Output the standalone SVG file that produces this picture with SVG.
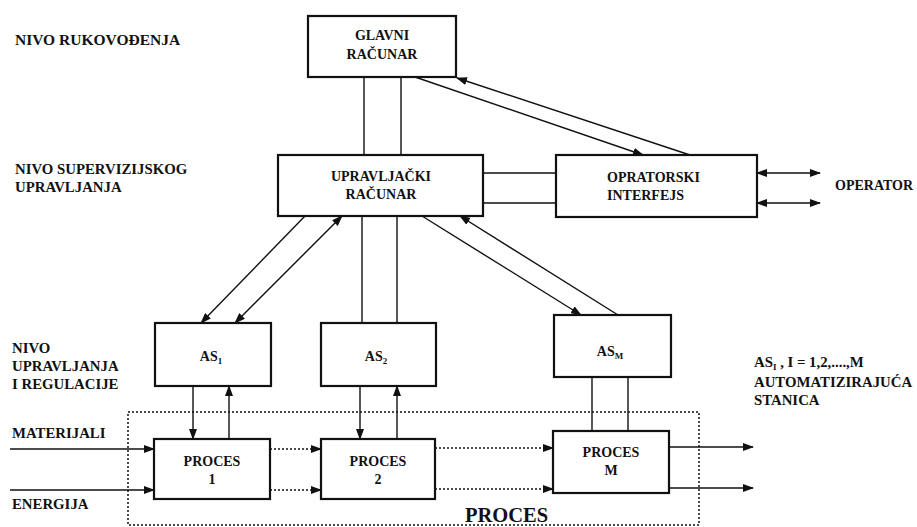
<svg xmlns="http://www.w3.org/2000/svg" width="917" height="527" viewBox="0 0 917 527">
  <style>
    text { font-family: "Liberation Serif", "DejaVu Serif", serif; font-weight: bold; fill: #111; font-size: 14px; }
    text.lbl { font-size: 14.8px; }
    text.top { font-size: 15.5px; }
    text.big { font-size: 20.5px; }
    tspan.sub { font-size: 9px; }
    .c { text-anchor: middle; }
    .box { fill: #fff; stroke: #111; stroke-width: 2.2; }
    .ln { fill: none; stroke: #111; stroke-width: 1.4; }
    .dot { fill: none; stroke: #111; stroke-width: 1.4; stroke-dasharray: 2 2; }
    .frame { fill: none; stroke: #111; stroke-width: 1.5; stroke-dasharray: 2 2; }
    .end { marker-end: url(#ah); }
    .both { marker-start: url(#ah); marker-end: url(#ah); }
  </style>
  <defs>
    <marker id="ah" markerUnits="userSpaceOnUse" markerWidth="11" markerHeight="8" refX="10" refY="4" orient="auto-start-reverse">
      <path d="M0,0 L11,4 L0,8 z" fill="#111"/>
    </marker>
  </defs>

  <rect width="917" height="527" fill="#fff"/>

  <!-- process boundary -->
  <rect class="frame" x="128" y="412" width="571" height="113"/>

  <!-- level labels -->
  <g id="labels">
    <text class="top" x="15" y="45">NIVO RUKOVOĐENJA</text>
    <text class="lbl" x="15" y="174">NIVO SUPERVIZIJSKOG</text>
    <text class="lbl" x="15" y="192">UPRAVLJANJA</text>
    <text class="lbl" x="12" y="353">NIVO</text>
    <text class="lbl" x="12" y="371">UPRAVLJANJA</text>
    <text class="lbl" x="12" y="389">I REGULACIJE</text>
    <text class="lbl" x="12" y="438">MATERIJALI</text>
    <text class="lbl" x="12" y="509">ENERGIJA</text>
    <text x="835" y="190">OPERATOR</text>
    <text class="lbl" x="754" y="367">AS<tspan class="sub" dy="3">I</tspan><tspan dy="-3"> , I = 1,2,....,M</tspan></text>
    <text class="lbl" x="754" y="387">AUTOMATIZIRAJUĆA</text>
    <text class="lbl" x="754" y="405">STANICA</text>
    <text class="big" x="465" y="522">PROCES</text>
  </g>

  <!-- connectors -->
  <g id="connectors">
    <line class="ln" x1="364" y1="77" x2="364" y2="155"/>
    <line class="ln" x1="401" y1="77" x2="401" y2="155"/>
    <line class="ln end" x1="415" y1="77" x2="643" y2="155"/>
    <line class="ln end" x1="690" y1="155" x2="457" y2="78"/>
    <line class="ln" x1="483" y1="173" x2="556" y2="173"/>
    <line class="ln" x1="483" y1="203" x2="556" y2="203"/>
    <line class="ln both" x1="757" y1="173" x2="820" y2="173"/>
    <line class="ln both" x1="757" y1="203" x2="820" y2="203"/>

    <line class="ln end" x1="305" y1="216" x2="201" y2="323"/>
    <line class="ln both" x1="342" y1="216" x2="235" y2="323"/>
    <line class="ln" x1="362" y1="216" x2="362" y2="323"/>
    <line class="ln" x1="397" y1="216" x2="397" y2="323"/>
    <line class="ln end" x1="422" y1="216" x2="581" y2="315"/>
    <line class="ln end" x1="618" y1="315" x2="460" y2="216"/>

    <line class="ln end" x1="193" y1="386" x2="193" y2="439"/>
    <line class="ln end" x1="229" y1="439" x2="229" y2="386"/>
    <line class="ln end" x1="360" y1="386" x2="360" y2="439"/>
    <line class="ln end" x1="397" y1="439" x2="397" y2="386"/>
    <line class="ln" x1="592" y1="377" x2="592" y2="431"/>
    <line class="ln" x1="628" y1="377" x2="628" y2="431"/>

    <line class="ln end" x1="10" y1="449" x2="154" y2="449"/>
    <line class="ln end" x1="10" y1="490" x2="154" y2="490"/>
    <line class="dot end" x1="270" y1="449" x2="321" y2="449"/>
    <line class="dot end" x1="270" y1="490" x2="321" y2="490"/>
    <line class="dot end" x1="435" y1="448" x2="553" y2="448"/>
    <line class="dot end" x1="435" y1="489" x2="553" y2="489"/>
    <line class="ln end" x1="669" y1="447" x2="753" y2="447"/>
    <line class="ln end" x1="669" y1="488" x2="753" y2="488"/>
  </g>

  <!-- nodes -->
  <g id="glavni">
    <rect class="box" x="308" y="16" width="148" height="61"/>
    <text class="c" x="382" y="40">GLAVNI</text>
    <text class="c" x="382" y="59">RAČUNAR</text>
  </g>
  <g id="upravljacki">
    <rect class="box" x="278" y="155" width="205" height="61"/>
    <text class="c" x="381" y="181">UPRAVLJAČKI</text>
    <text class="c" x="381" y="199">RAČUNAR</text>
  </g>
  <g id="operatorski">
    <rect class="box" x="556" y="155" width="201" height="62"/>
    <text x="607" y="182">OPRATORSKI</text>
    <text x="607" y="200">INTERFEJS</text>
  </g>
  <g id="as1">
    <rect class="box" x="155" y="323" width="116" height="63"/>
    <text class="c" x="211" y="361">AS<tspan class="sub" dy="3">1</tspan></text>
  </g>
  <g id="as2">
    <rect class="box" x="321" y="323" width="115" height="63"/>
    <text class="c" x="376" y="361">AS<tspan class="sub" dy="3">2</tspan></text>
  </g>
  <g id="asm">
    <rect class="box" x="554" y="315" width="117" height="62"/>
    <text class="c" x="610" y="356">AS<tspan class="sub" dy="3">M</tspan></text>
  </g>
  <g id="proces1">
    <rect class="box" x="154" y="439" width="116" height="60"/>
    <text class="c" x="212" y="466">PROCES</text>
    <text class="c" x="212" y="484">1</text>
  </g>
  <g id="proces2">
    <rect class="box" x="321" y="439" width="114" height="60"/>
    <text class="c" x="378" y="466">PROCES</text>
    <text class="c" x="378" y="484">2</text>
  </g>
  <g id="procesm">
    <rect class="box" x="553" y="431" width="116" height="62"/>
    <text class="c" x="611" y="457">PROCES</text>
    <text class="c" x="611" y="475">M</text>
  </g>
</svg>
